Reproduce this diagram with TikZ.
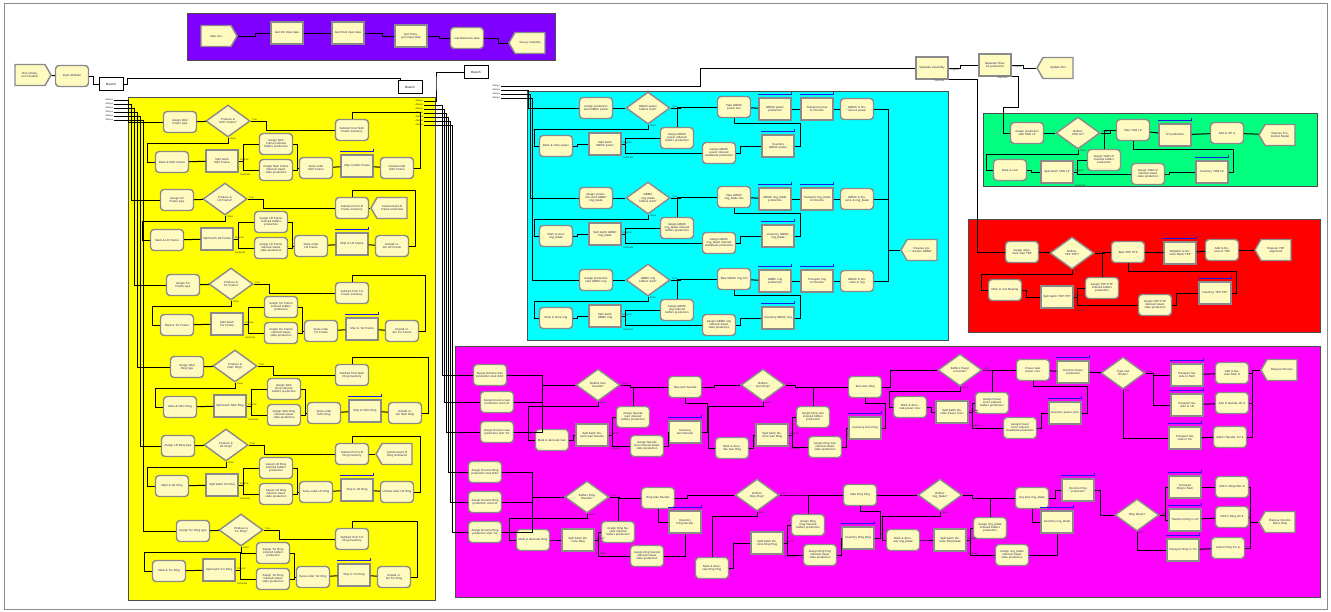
\documentclass[tikz,border=0pt]{standalone}
\usepackage{fontspec}
\setmainfont{Liberation Sans}
\usetikzlibrary{shapes.geometric,shapes.symbols}
\definecolor{ndf}{HTML}{FFFAC0}
\definecolor{ndb}{HTML}{8A8A8A}
\definecolor{ntx}{HTML}{2B2B5A}
\definecolor{pyel}{HTML}{FFFF00}
\definecolor{pcya}{HTML}{00FFFF}
\definecolor{pmag}{HTML}{FF00FF}
\definecolor{pgrn}{HTML}{00FF7F}
\definecolor{pred}{HTML}{FF0000}
\definecolor{ppur}{HTML}{7F00FF}
\definecolor{qblue}{HTML}{1A1AE6}
\tikzset{
 nd/.style={draw=ndb, fill=ndf, line width=1.4pt, font=\fontsize{2.9}{3.2}\selectfont, text=ntx, align=center, inner sep=0.5pt},
 rnd/.style={nd, rounded corners=3.5pt, minimum width=33pt, minimum height=21pt, text width=29pt},
 sq/.style={nd, rectangle, minimum width=32pt, minimum height=22pt, text width=28pt},
 dia/.style={nd, diamond, minimum width=44pt, minimum height=32pt, text width=22pt, inner sep=0pt},
 crt/.style={nd, signal, signal to=east, signal pointer angle=120, minimum width=36pt, minimum height=21pt, text width=24pt},
 dsp/.style={nd, signal, signal to=west, signal pointer angle=120, minimum width=36pt, minimum height=21pt, text width=24pt},
 brn/.style={draw=black, fill=white, line width=1pt, font=\fontsize{3}{3.2}\selectfont, minimum width=24pt, minimum height=13pt, inner sep=0.5pt},
 w/.style={draw=black, line width=1pt},
 lab/.style={font=\fontsize{2.4}{2.6}\selectfont, inner sep=0.3pt, text=black!80},
 qbar/.style={draw=qblue, line width=0.9pt},
 panel/.style={draw=black!70, line width=0.7pt},
}
\newcommand{\queuebar}[1]{\draw[qbar] ([yshift=3pt]#1.north west) -- ([yshift=3pt]#1.north east) -- ++(0pt,2pt);}
\newcommand{\stageconn}[1]{%
 \draw[w] (#1d.east) -- ++(10,0) |- (#1t.west);
 \draw[w] (#1m.east) -- ++(4,0) |- (#1p.west);
 \draw[w] (#1p.east) -- ++(4,0) |- (#1i.west);
 \draw[w] (#1p.east) -- ++(4,0) |- (#1j.west);
 \draw[w] (#1i.north) |- (#1t.west);
 \node[lab,anchor=south west] (#1LT) at ([xshift=1pt]#1d.east) {True};
 \node[lab,anchor=north west] (#1LF) at ([xshift=1.5pt]#1d.south) {False};
 \node[lab,anchor=south west] (#1LO) at ([xshift=1pt]#1p.east) {Original};
 \node[lab,anchor=north west] (#1LD) at ([xshift=1pt,yshift=-1pt]#1p.south east) {Duplicate};
}
\newcommand{\falseroute}[2]{\draw[w] (#1d.south) -- ++(0,5) -| ([xshift=#2]#1m.west) -- (#1m.west);}
\newcommand{\vret}[3]{\draw[w] (#1v.east) -- ++(#2,0) |- ([yshift=-#3]#1t.south) -- (#1t.south);}
\newcommand{\jtov}[1]{\draw[w] (#1j.east) -- ++(4,0) |- (#1v.west);}
\newcommand{\yelsec}[5]{%
\begin{scope}[shift={(0,#2)}]
\node[rnd] (#1a) at ({180+#4},0) {Assign #3 type};
\node[dia] (#1d) at ({228+#4},-1) {Produce \& #3?};
\node[rnd] (#1s) at (352,8) {Subtract from #3 inventory};
\node[rnd] (#1m) at ({172+#5},40) {Mark \& #3};
\node[sq] (#1p) at ({222+#5},39) {Split batch #3};
\node[rnd] (#1i) at ({276+#5},22) {Assign #3 induced buffers production};
\node[rnd] (#1j) at ({276+#5},48) {Assign #3 induced steadstate production};
\node[rnd] (#1z) at ({316+#5},46) {Seize order #3};
\node[sq] (#1h) at ({357+#5},44) {Ship to #3};
\node[rnd] (#1u) at ({397+#5},46) {Unload order #3};
\end{scope}
\draw[w] (#1a) -- (#1d);
\draw[w] (#1d.east) -- ++(16,0) |- (#1s.west);
\draw[w] (#1d.south) -- ++(0,6) -| ([xshift=-7pt]#1m.west) -- (#1m.west);
\draw[w] (#1m) -- (#1p);
\draw[w] (#1p.east) -- ++(5,0) |- (#1i.west);
\draw[w] (#1p.east) -- ++(5,0) |- (#1j.west);
\draw[w] (#1i.east) -- ++(4,0) |- (#1z.west);
\draw[w] (#1j.east) -- ++(4,0) |- (#1z.west);
\draw[w] (#1z) -- (#1h);
\draw[w] (#1h) -- (#1u);
\draw[w] (#1u.east) -- ++(6,0) |- ([yshift=6pt]#1s.north) -- (#1s.north);
\queuebar{#1h}
\node[lab,anchor=south west] (#1LT) at ([xshift=1pt]#1d.east) {True};
\node[lab,anchor=north west] (#1LF) at ([xshift=1.5pt]#1d.south) {False};
\node[lab,anchor=south west] (#1LO) at ([xshift=1pt]#1p.east) {Original};
\node[lab,anchor=north west] (#1LD) at ([xshift=1pt,yshift=-1pt]#1p.south east) {Duplicate};
}
\newcommand{\cyansec}[3]{%
\begin{scope}[shift={(0,#2)}]
\node[rnd] (#1a) at (596,0) {Assign production start GBMC #3};
\node[dia] (#1d) at (648,0) {GBMC #3 buffers start?};
\node[rnd] (#1t) at (734,-1) {Take GBMC #3 into};
\node[sq] (#1q) at (775,1) {GBMC #3 production};
\node[sq] (#1r) at (817,1) {Transport #3 to Dorume};
\node[rnd] (#1g) at (857,1) {GBMC to Dorume \& #3};
\node[rnd] (#1m) at (556,38) {Mark \& store #3};
\node[sq] (#1p) at (605,36) {Split batch GBMC #3};
\node[rnd] (#1i) at (677,30) {Assign GBMC #3 induced buffers production};
\node[rnd] (#1j) at (719,45) {Assign GBMC #3 induced steadstate production};
\node[sq] (#1v) at (778,38) {Inventory GBMC #3};
\end{scope}
\draw[w] (#1a) -- (#1d);
\stageconn{#1}
\falseroute{#1}{-4pt}
\vret{#1}{6}{5pt}
\jtov{#1}
\draw[w] (#1t) -- (#1q);
\draw[w] (#1q) -- (#1r);
\draw[w] (#1r) -- (#1g);
\draw[w] (#1g.east) -- ++(14,0) |- (cz.west);
\queuebar{#1q}\queuebar{#1r}\queuebar{#1v}
}
\begin{document}
\begin{tikzpicture}[x=1pt,y=-1pt]
\useasboundingbox (0,0) rectangle (1331,611);
\fill[white] (0,0) rectangle (1331,611);
% panels
\draw[panel, fill=ppur] (187,13) rectangle (555,60);
\draw[panel, fill=pyel] (128,97) rectangle (435,600);
\draw[panel, fill=pcya] (527,91) rectangle (948,340);
\draw[panel, fill=pgrn] (983,113) rectangle (1317,186);
\draw[panel, fill=pred] (968,219) rectangle (1320,332);
\draw[panel, fill=pmag] (455,346) rectangle (1320,597);
\draw[black!45, line width=0.6pt] (4,3) rectangle (1327,609);

% purple set-up
\node[crt] (ps) at (216,36) {Start sim};
\node[sq] (pg1) at (287,33) {Get DC input data};
\node[sq] (pg2) at (348,33) {Get Plant input data};
\node[sq] (pg3) at (411,36) {Get Transport input data};
\node[rnd] (pg4) at (467,38) {Get Distances data};
\node[dsp] (pe) at (530,43) {Set-up complete};
\draw[w] (ps.east) -- ++(18,0) |- (pg1.west);
\draw[w] (pg1) -- (pg2);
\draw[w] (pg2.east) -- ++(18,0) |- (pg3.west);
\draw[w] (pg3.east) -- ++(12,0) |- (pg4.west);
\draw[w] (pg4.east) -- ++(14,0) |- (pe.west);

% top-left start
\node[crt] (run) at (30,75) {Run simulation Creation};
\node[rnd] (inp) at (72,76) {Input Attribute};
\node[brn] (br1) at (111,84) {Branch};
\node[brn] (br2) at (410,87) {Branch};
\node[brn] (br3) at (476,72) {Branch};
\draw[w] (run) -- (inp);
\draw[w] (inp.east) -- ++(4,0) |- (br1.west);
\draw[w] (br1.east) -| (127,78) -| ([xshift=3pt]br2.north west);
\foreach \k in {1,...,6} \node[lab,anchor=west] (b1o\k) at (105,{96+4*\k}) {Always};
\foreach \k in {1,...,7} \node[lab,anchor=west] (b2o\k) at (415,{97+4*\k}) {Always};
\foreach \k in {1,...,4} \node[lab,anchor=west] (b3o\k) at (492,{82+4*\k}) {Always};

% yellow sections
\yelsec{ya}{122}{NAC Frame}{0}{0}
\yelsec{yb}{200}{LR Frame}{-3}{-5}
\yelsec{yc}{285}{Tur Frame}{3}{5}
\yelsec{yd}{367}{NAC Ring}{7}{8}
\yelsec{ye}{446}{LR Ring}{-2}{0}
\yelsec{yf}{531}{Tur Ring}{13}{-3}
\node[dsp] (ybx) at (392,208) {Constructed LR Frame Unshared};
\node[dsp] (yex) at (397,454) {Constructed LR Ring Unshared};
\draw[w] (ybs) -- (ybx);
\draw[w] (yes) -- (yex);
\foreach \k/\s in {1/ya,2/yb,3/yc,4/yd,5/ye,6/yf} \draw[w] (b1o\k.east) -- ++({12+3*\k},0) |- (\s a.west);

% top right
\node[sq] (sa) at (932,68) {Separate Assembly};
\node[sq] (sc) at (995,65) {Separate Chassis production};
\node[dsp] (su) at (1058,68) {Update Slot};
\draw[w] (b2o1.east) -| (436,80) |- (br3.west);
\draw[w] (b3o1.east) -- ++(200,0) |- (sa.west);
\draw[w] (sa.east) -- ++(12,0) |- (sc.west);
\draw[w] (sc.east) -- ++(12,0) |- (su.west);
\node[lab,anchor=north west] (saLO) at ([xshift=1pt]sa.east) {Original};
\node[lab,anchor=north west] (saLD) at ([xshift=2pt]sa.south) {Duplicate};
\node[lab,anchor=north west] (scLO) at ([xshift=1pt]sc.east) {Original};
\node[lab,anchor=north west] (scLD) at ([xshift=2pt]sc.south) {Duplicate};

% cyan
\node[dsp] (cz) at (922,250) {Dispose production GBMC};
\cyansec{cp}{108}{power}
\cyansec{cb}{198}{ring\_blade}
\cyansec{cc}{280}{ring}
\foreach \k/\s in {2/cp,3/cb,4/cc} \draw[w] (b3o\k.east) -- ++({24+2*\k},0) |- (\s a.west);

% green
\node[rnd] (gna) at (1027,133) {Assign production start YAW LP};
\node[dia] (gnd) at (1078,133) {Buffers YAW LP?};
\node[rnd] (gnt) at (1133,130) {Take YAW LP};
\node[sq] (gnq) at (1175,135) {LP production};
\node[rnd] (gnx) at (1227,133) {Add to HP \&};
\node[dsp] (gnz) at (1280,135) {Dispose Production Model};
\node[rnd] (gnm) at (1010,170) {Mark \& cost};
\node[sq] (gnp) at (1057,172) {Split batch YAW LP};
\node[rnd] (gni) at (1104,160) {Assign YAW LP induced buffers production};
\node[rnd] (gnj) at (1148,174) {Assign YAW LP induced steadstate production};
\node[sq] (gnv) at (1212,172) {Inventory YAW LP};
\draw[w] (gna) -- (gnd);
\stageconn{gn}
\falseroute{gn}{-6pt}
\jtov{gn}
\vret{gn}{5}{8pt}
\draw[w] (gnt) -- (gnq);
\draw[w] (gnq) -- (gnx);
\draw[w] (gnx) -- (gnz);
\queuebar{gnq}\queuebar{gnv}
\draw[w] (sc.south east) -| (1018,107) -| (1003,120) |- (gna.west);

% red
\node[rnd] (rda) at (1022,252) {Assign alignment start YEP};
\node[dia] (rdd) at (1072,253) {Buffers YEP PTP?};
\node[rnd] (rdt) at (1128,252) {Take YEP PTP};
\node[sq] (rdq) at (1180,253) {Dispatch to Dorume Block YEP};
\node[rnd] (rdx) at (1222,250) {Add to Dorume \& YEP};
\node[dsp] (rdz) at (1276,250) {Dispose YEP alignment};
\node[rnd] (rdm) at (1005,290) {Mark \& cost Bearing};
\node[sq] (rdp) at (1057,297) {Split batch YEP PTP};
\node[rnd] (rdi) at (1102,288) {Assign YEP PTP induced buffers production};
\node[rnd] (rdj) at (1155,305) {Assign YEP PTP induced steadstate production};
\node[sq] (rdv) at (1215,293) {Inventory YEP PTP};
\draw[w] (rda) -- (rdd);
\stageconn{rd}
\falseroute{rd}{-6pt}
\jtov{rd}
\vret{rd}{5}{8pt}
\draw[w] (rdt) -- (rdq);
\draw[w] (rdq) -- (rdx);
\draw[w] (rdx) -- (rdz);
\queuebar{rdq}\queuebar{rdv}
\draw[w] (sa.south east) -| (977,200) |- (rda.west);

% magenta upper
\node[rnd] (mA1) at (490,375) {Assign Dorume Gen production start NAC};
\node[rnd] (mA2) at (497,402) {Assign Dorume Gen production start LR};
\node[rnd] (mA3) at (497,432) {Assign Dorume Gen production start Tur};
\node[rnd] (mB1) at (485,472) {Assign Dorume Ring production start NAC};
\node[rnd] (mB2) at (485,502) {Assign Dorume Ring production start LR};
\node[rnd] (mB3) at (485,532) {Assign Dorume Ring production start Tur};
\foreach \k/\t in {2/mA1,3/mA2,4/mA3,5/mB1,6/mB2,7/mB3} \draw[w] (b2o\k.east) -- ++({15+2*\k},0) |- (\t.west);

\node[dia] (mgd) at (598,385) {Buffers Gen Nacelle?};
\node[rnd] (mgt) at (685,387) {Take Gen Nacelle};
\node[rnd] (mgm) at (552,440) {Mark \& decorate Gen};
\node[sq] (mgp) at (592,435) {Split batch Dorume Gen Nacelle};
\node[rnd] (mgi) at (633,417) {Assign Nacelle Gen induced buffers production};
\node[rnd] (mgj) at (647,446) {Assign Nacelle Gen induced steadstate production};
\node[sq] (mgv) at (685,432) {Inventory Gen Nacelle};

\node[dia] (mrd) at (763,385) {Buffers Gen Ring?};
\node[rnd] (mrt) at (865,387) {Take Gen Ring};
\node[rnd] (mrm) at (732,448) {Mark \& decorate Gen Ring};
\node[sq] (mrp) at (772,435) {Split batch Dorume Gen Ring};
\node[rnd] (mri) at (813,417) {Assign Ring Gen induced buffers production};
\node[rnd] (mrj) at (825,447) {Assign Ring Gen induced steadstate production};
\node[sq] (mrv) at (865,428) {Inventory Gen Ring};

\node[dia] (mpd) at (960,370) {Buffers Power converter?};
\node[rnd] (mpt) at (1033,370) {Power take power conv};
\node[sq] (mpq) at (1073,372) {Dorume Power production};
\node[rnd] (mpm) at (910,407) {Mark \& decorate power conv};
\node[sq] (mpp) at (952,412) {Split batch Dorume Power Conv};
\node[rnd] (mpi) at (992,403) {Assign Power Conv induced buffers production};
\node[rnd] (mpj) at (1020,428) {Assign Power Conv induced steadstate production};
\node[sq] (mpv) at (1065,413) {Inventory power conv};
\node[dia] (mpr) at (1123,373) {Type and Route?};
\node[sq] (mpx1) at (1187,375) {Transport Nacelle to NAC};
\node[sq] (mpx2) at (1187,405) {Transport Nacelle to LR};
\node[sq] (mpx3) at (1185,438) {Transport Nacelle to Tur};
\node[rnd] (mpa1) at (1232,373) {Add to Nacelle NAC \&};
\node[rnd] (mpa2) at (1232,403) {Add to Nacelle LR \&};
\node[rnd] (mpa3) at (1230,437) {Add to Nacelle Tur \&};
\node[dsp] (mpz) at (1282,370) {Dispose Dorume};

\foreach \k in {1,2,3} \draw[w] (mA\k.east) -| ([xshift=-33pt]mgd.west) -- (mgd.west);
\stageconn{mg}\falseroute{mg}{-6pt}\jtov{mg}\vret{mg}{6}{5pt}
\draw[w] (mgt.east) -- ++(12,0) |- (mrd.west);
\stageconn{mr}\falseroute{mr}{-6pt}\jtov{mr}\vret{mr}{4}{5pt}
\draw[w] (mrt.east) -- ++(8,0) |- (mpd.west);
\stageconn{mp}\falseroute{mp}{-3pt}\jtov{mp}\vret{mp}{6}{5pt}
\draw[w] (mpt) -- (mpq);
\draw[w] (mpq) -- (mpr);
\draw[w] (mpr.east) -- ++(8,0) |- (mpx1.west);
\draw[w] (mpr.east) -- ++(8,0) |- (mpx2.west);
\draw[w] (mpr.south) |- (mpx3.west);
\foreach \k in {1,2,3} {\draw[w] (mpx\k) -- (mpa\k); \draw[w] (mpa\k.east) -| ([xshift=-8pt]mpz.west) -- (mpz.west);}
\node[lab,anchor=south west] (mprLT) at ([xshift=1pt]mpr.east) {True};
\node[lab,anchor=north west] (mprLF) at ([xshift=1.5pt]mpr.south) {Else};
\queuebar{mgv}\queuebar{mrv}\queuebar{mpv}\queuebar{mpq}
\queuebar{mpx1}\queuebar{mpx2}\queuebar{mpx3}

% magenta lower
\node[dia] (mnd) at (587,497) {Buffers Ring Nacelle?};
\node[rnd] (mnt) at (658,498) {Ring take Nacelle};
\node[rnd] (mnm) at (533,540) {Mark \& decorate Ring};
\node[sq] (mnp) at (578,540) {Split batch Dorume Ring};
\node[rnd] (mni) at (618,532) {Assign Ring Nacelle induced buffers production};
\node[rnd] (mnj) at (647,556) {Assign Ring Nacelle induced steadstate production};
\node[sq] (mnv) at (685,522) {Inventory Ring Nacelle};

\node[dia] (mqd) at (757,495) {Buffers Ring Plug?};
\node[rnd] (mqt) at (860,495) {Take Ring Plug};
\node[rnd] (mqm) at (712,568) {Mark \& decorate Ring Plug};
\node[sq] (mqp) at (767,543) {Split batch Dorume Ring Plug};
\node[rnd] (mqi) at (808,525) {Assign Ring Plug induced buffers production};
\node[rnd] (mqj) at (820,555) {Assign Ring Plug induced steadstate production};
\node[sq] (mqv) at (858,538) {Inventory Ring Plug};

\node[dia] (mbd) at (940,495) {Buffers ring\_blade?};
\node[rnd] (mbt) at (1032,498) {ring take ring\_blade};
\node[sq] (mbq) at (1078,490) {Dorume Ring production};
\node[rnd] (mbm) at (903,540) {Mark \& decorate ring\_blade};
\node[sq] (mbp) at (950,540) {Split batch Dorume Ring blade};
\node[rnd] (mbi) at (990,528) {Assign ring\_blade induced buffers production};
\node[rnd] (mbj) at (1012,555) {Assign ring\_blade induced steadstate production};
\node[sq] (mbv) at (1057,522) {Inventory ring\_blade};
\node[dia] (mbr) at (1137,515) {Ring Route?};
\node[sq] (mbx1) at (1185,487) {Transport Ring to NAC};
\node[sq] (mbx2) at (1185,520) {Transport Ring to LR};
\node[sq] (mbx3) at (1183,550) {Transport Ring to Tur};
\node[rnd] (mba1) at (1232,487) {Add to Ring NAC \&};
\node[rnd] (mba2) at (1232,517) {Add to Ring LR \&};
\node[rnd] (mba3) at (1228,548) {Add to Ring Tur \&};
\node[dsp] (mbz) at (1280,522) {Dispose Dorume Rotor Ring};

\foreach \k in {1,2,3} \draw[w] (mB\k.east) -| ([xshift=-32pt]mnd.west) -- (mnd.west);
\stageconn{mn}\falseroute{mn}{-6pt}
\draw[w] (mnj.east) -| (mnv.south);
\draw[w] (mnv.west) -| (mnt.south);
\draw[w] (mnt.east) -- ++(12,0) |- (mqd.west);
\stageconn{mq}
\draw[w] (mqd.south) -- ++(0,5) -| (mqm.north);
\jtov{mq}\vret{mq}{6}{5pt}
\draw[w] (mqt) -- (mbd);
\stageconn{mb}\falseroute{mb}{-3pt}
\draw[w] (mbj.east) -| (mbv.south);
\draw[w] (mbv.west) -| (mbt.south);
\draw[w] (mbt.east) -- ++(6,0) |- (mbq.west);
\draw[w] (mbq.east) -- ++(6,0) |- (mbr.west);
\draw[w] (mbr.east) -- ++(6,0) |- (mbx1.west);
\draw[w] (mbr.east) -- ++(6,0) |- (mbx2.west);
\draw[w] (mbr.south) |- (mbx3.west);
\foreach \k in {1,2,3} {\draw[w] (mbx\k) -- (mba\k); \draw[w] (mba\k.east) -| ([xshift=-8pt]mbz.west) -- (mbz.west);}
\node[lab,anchor=south west] (mbrLT) at ([xshift=1pt]mbr.east) {True};
\node[lab,anchor=north west] (mbrLF) at ([xshift=1.5pt]mbr.south) {Else};
\queuebar{mnv}\queuebar{mqv}\queuebar{mbv}\queuebar{mbq}
\queuebar{mbx1}\queuebar{mbx2}\queuebar{mbx3}
\end{tikzpicture}
\end{document}
